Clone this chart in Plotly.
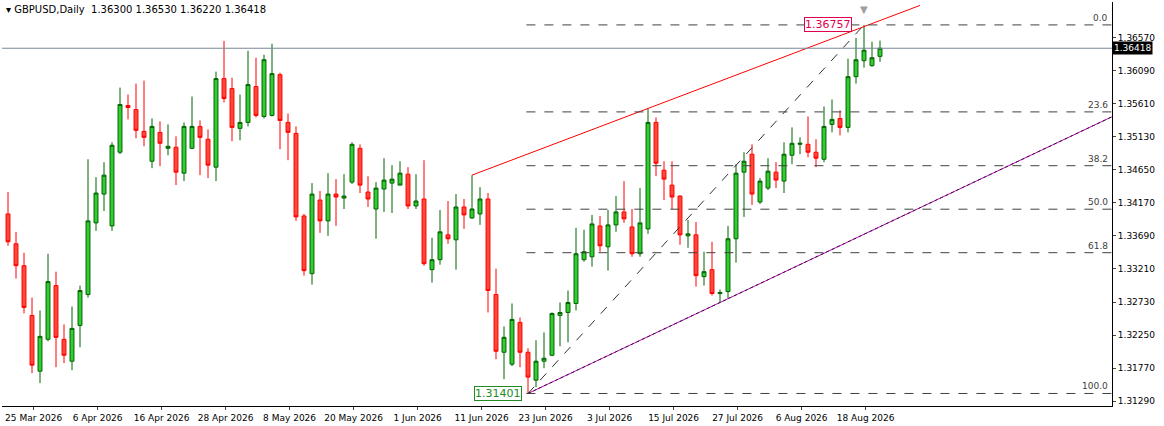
import pandas as pd
import plotly.graph_objects as go

# daily GBPUSD candles
opens = [1.34010, 1.33576, 1.33258, 1.32535, 1.31725, 1.32188, 1.32969, 1.32188, 1.31870, 1.32390,
         1.32839, 1.33880, 1.34299, 1.33836, 1.34907, 1.35586, 1.35528, 1.35210, 1.34776, 1.35196,
         1.34964, 1.34979, 1.34603, 1.34964, 1.35282, 1.35095, 1.34690, 1.35977, 1.35832, 1.35254,
         1.35340, 1.35861, 1.35427, 1.35442, 1.36034, 1.35340, 1.35181, 1.33981, 1.33142, 1.34212,
         1.33909, 1.34299, 1.34241, 1.34473, 1.34964, 1.34328, 1.34082, 1.34372, 1.34458, 1.34429,
         1.34588, 1.34126, 1.34227, 1.33200, 1.33345, 1.33706, 1.33634, 1.34111, 1.33952, 1.34010,
         1.34227, 1.32839, 1.32000, 1.31827, 1.32434, 1.32000, 1.31595, 1.31870, 1.31957, 1.32535,
         1.32578, 1.32709, 1.33345, 1.33388, 1.33836, 1.33533, 1.33851, 1.34039, 1.33822, 1.33432,
         1.33793, 1.35340, 1.34646, 1.34429, 1.34270, 1.33692, 1.33706, 1.33099, 1.33200, 1.32853,
         1.32882, 1.33649, 1.34617, 1.34878, 1.34184, 1.34386, 1.34617, 1.34487, 1.34863, 1.35022,
         1.35022, 1.34907, 1.34805, 1.35311, 1.35398, 1.35268, 1.36005, 1.36237, 1.36165, 1.36300]
highs = [1.34328, 1.33750, 1.33446, 1.32795, 1.32607, 1.33432, 1.33171, 1.32405, 1.32665, 1.32969,
         1.34805, 1.34545, 1.34762, 1.35051, 1.35846, 1.35745, 1.35904, 1.35948, 1.35398, 1.35355,
         1.35311, 1.35138, 1.35340, 1.35716, 1.35369, 1.35239, 1.36078, 1.36526, 1.35991, 1.35745,
         1.36381, 1.36280, 1.36324, 1.36483, 1.36063, 1.35470, 1.35282, 1.34010, 1.34458, 1.34343,
         1.34603, 1.34516, 1.34588, 1.35051, 1.35022, 1.34559, 1.34473, 1.34820, 1.34719, 1.34776,
         1.34690, 1.34588, 1.34791, 1.33663, 1.34068, 1.34198, 1.34299, 1.34227, 1.34574, 1.34400,
         1.34314, 1.33215, 1.32376, 1.32709, 1.32506, 1.32058, 1.32174, 1.32289, 1.32578, 1.32723,
         1.32897, 1.33808, 1.33779, 1.33996, 1.33981, 1.34068, 1.34270, 1.34487, 1.34082, 1.34386,
         1.35543, 1.35413, 1.34776, 1.34776, 1.34280, 1.33923, 1.33894, 1.33461, 1.33605, 1.32911,
         1.33836, 1.34733, 1.34907, 1.35022, 1.34531, 1.34820, 1.34762, 1.35051, 1.35268, 1.35123,
         1.35427, 1.35095, 1.35572, 1.35673, 1.35514, 1.36266, 1.36569, 1.36757, 1.36512, 1.36530]
lows = [1.33547, 1.33070, 1.32564, 1.31696, 1.31552, 1.32159, 1.31783, 1.31841, 1.31740, 1.32072,
        1.32795, 1.33764, 1.34053, 1.33764, 1.34878, 1.35384, 1.35109, 1.34993, 1.34675, 1.34704,
        1.34863, 1.34429, 1.34487, 1.34950, 1.34574, 1.34531, 1.34487, 1.35630, 1.35066, 1.35080,
        1.35282, 1.35413, 1.35398, 1.35427, 1.34950, 1.34791, 1.33909, 1.33113, 1.32983, 1.33735,
        1.33692, 1.33836, 1.34082, 1.34444, 1.34314, 1.34111, 1.33649, 1.34039, 1.34024, 1.34458,
        1.34082, 1.34082, 1.33258, 1.33012, 1.33273, 1.33576, 1.33200, 1.33793, 1.33938, 1.33851,
        1.32578, 1.31899, 1.31610, 1.31798, 1.31783, 1.31401, 1.31494, 1.31769, 1.31942, 1.32087,
        1.32145, 1.32607, 1.33316, 1.33244, 1.33461, 1.33186, 1.33750, 1.33880, 1.33388, 1.33388,
        1.33721, 1.34559, 1.34212, 1.34082, 1.33562, 1.33518, 1.32954, 1.32969, 1.32824, 1.32723,
        1.32781, 1.33301, 1.33967, 1.34140, 1.34155, 1.34357, 1.34386, 1.34314, 1.34733, 1.34878,
        1.34834, 1.34690, 1.34762, 1.35196, 1.35152, 1.35196, 1.35904, 1.36136, 1.36150, 1.36220]
closes = [1.33605, 1.33258, 1.32651, 1.31812, 1.32231, 1.33027, 1.32217, 1.31957, 1.32347, 1.32897,
          1.33909, 1.34314, 1.34574, 1.35008, 1.35601, 1.35557, 1.35225, 1.35123, 1.35282, 1.35037,
          1.34993, 1.34617, 1.35282, 1.35282, 1.35123, 1.34719, 1.35977, 1.35687, 1.35268, 1.35340,
          1.35890, 1.35442, 1.36251, 1.36049, 1.35369, 1.35196, 1.33967, 1.33186, 1.34299, 1.33909,
          1.34299, 1.34256, 1.34270, 1.35022, 1.34429, 1.34227, 1.34386, 1.34502, 1.34516, 1.34603,
          1.34126, 1.34198, 1.33287, 1.33345, 1.33750, 1.33649, 1.34111, 1.33996, 1.34082, 1.34227,
          1.32897, 1.32015, 1.32217, 1.32477, 1.32000, 1.31639, 1.31870, 1.31913, 1.32564, 1.32578,
          1.32723, 1.33432, 1.33461, 1.33865, 1.33547, 1.33851, 1.34039, 1.33938, 1.33432, 1.33880,
          1.35340, 1.34747, 1.34516, 1.34256, 1.33706, 1.33721, 1.33113, 1.33171, 1.32853, 1.32868,
          1.33649, 1.34603, 1.34776, 1.34299, 1.34487, 1.34632, 1.34502, 1.34878, 1.35037, 1.35037,
          1.34907, 1.34820, 1.35282, 1.35384, 1.35268, 1.36005, 1.36251, 1.36390, 1.36280, 1.36418]

dates = pd.bdate_range("2026-03-25", periods=len(opens))
idx = list(range(len(opens)))

price_ticks = [1.31290, 1.31770, 1.32250, 1.32730, 1.33210, 1.33690, 1.34170,
               1.34650, 1.35130, 1.35610, 1.36090, 1.36570]

# objects drawn on the chart
swing_low_i, swing_low = 65, 1.31401
swing_high_i, swing_high = 107, 1.36757
fib_levels = [0.0, 23.6, 38.2, 50.0, 61.8, 100.0]
res_pts = ([58, 80], [1.34574, 1.35543])
sup_pts = ([65, 89], [1.31401, 1.32723])
last_price = 1.36418

x_max = 138.0
y_min, y_max = 1.31219, 1.3709

fig = go.Figure()
fig.add_trace(go.Candlestick(
    x=idx, open=opens, high=highs, low=lows, close=closes,
    increasing=dict(line=dict(color="#006400", width=1), fillcolor="#32CD32"),
    decreasing=dict(line=dict(color="#FF0000", width=1), fillcolor="#FF4B3A"),
    whiskerwidth=0, showlegend=False, hoverinfo="skip"))


def extend(pts, x_end):
    (x0, x1), (y0, y1) = pts
    s = (y1 - y0) / (x1 - x0)
    return [x0, x_end], [y0, y0 + s * (x_end - x0)]


rx, ry = extend(res_pts, 114)
fig.add_trace(go.Scatter(x=rx, y=ry, mode="lines", line=dict(color="#FF0000", width=1),
                         showlegend=False, hoverinfo="skip"))
sx, sy = extend(sup_pts, x_max + 1)
fig.add_trace(go.Scatter(x=sx, y=sy, mode="lines", line=dict(color="#CC00CC", width=1),
                         showlegend=False, hoverinfo="skip"))
fig.add_trace(go.Scatter(x=sx, y=sy, mode="lines", line=dict(color="#202020", width=1, dash="dot"),
                         showlegend=False, hoverinfo="skip"))

# fibonacci
rng = swing_high - swing_low
fig.add_trace(go.Scatter(x=[swing_low_i, swing_high_i], y=[swing_low, swing_high], mode="lines",
                         line=dict(color="#333333", width=1, dash="dash"),
                         showlegend=False, hoverinfo="skip"))
for lv in fib_levels:
    p = swing_high - rng * lv / 100
    fig.add_shape(type="line", x0=swing_low_i - 0.2, x1=x_max, y0=p, y1=p,
                  line=dict(color="#404040", width=1, dash="dash"))
    fig.add_annotation(x=x_max - 0.3, y=p, text=f"{lv:.1f}", showarrow=False,
                       xanchor="right", yanchor="bottom", font=dict(size=9, color="#404040"))

# last price line
fig.add_shape(type="line", x0=-1, x1=x_max, y0=last_price, y1=last_price,
              line=dict(color="#778899", width=1))
fig.add_annotation(x=1, xref="paper", y=last_price, text=f"{last_price:.5f}", showarrow=False,
                   xanchor="left", bgcolor="#000000", font=dict(size=9, color="#FFFFFF"),
                   borderpad=1)

fig.add_annotation(x=swing_high_i - 1.5, y=swing_high, text=f"{swing_high:.5f}", showarrow=False,
                   xanchor="right", yanchor="middle", bgcolor="#FFFFFF",
                   bordercolor="#E0004D", borderwidth=1, borderpad=0,
                   font=dict(size=11, color="#E0004D"))
fig.add_annotation(x=swing_low_i - 0.7, y=swing_low, text=f"{swing_low:.5f}", showarrow=False,
                   xanchor="right", yanchor="middle", bgcolor="#FFFFFF",
                   bordercolor="#228B22", borderwidth=1, borderpad=0,
                   font=dict(size=11, color="#228B22"))
fig.add_annotation(x=swing_high_i, y=1.0, yref="paper", text="▼", showarrow=False,
                   yanchor="top", font=dict(size=10, color="#A0A0A0"))

fig.add_annotation(x=0.002, xref="paper", y=1.0, yref="paper",
                   text=f"▾ GBPUSD,Daily  {opens[-1]:.5f} {highs[-1]:.5f} {lows[-1]:.5f} {closes[-1]:.5f}",
                   showarrow=False, xanchor="left", yanchor="top", font=dict(size=10, color="#000000"))

tick_i = idx[::8]
fig.update_layout(
    width=1164, height=426,
    margin=dict(l=2, r=52, t=2, b=20),
    paper_bgcolor="#FFFFFF", plot_bgcolor="#FFFFFF",
    font=dict(family="DejaVu Sans", size=9, color="#000000"),
    xaxis=dict(range=[-0.75, x_max], rangeslider=dict(visible=False), showgrid=False,
               tickvals=[i + 3.2 for i in tick_i],
               ticktext=[dates[i].strftime("%-d %b %Y") for i in tick_i],
               ticks="outside", ticklen=3, showline=True, linecolor="#000000", mirror=False,
               zeroline=False),
    yaxis=dict(range=[y_min, y_max], side="right", showgrid=False, tickvals=price_ticks,
               ticktext=[f"{t:.5f}" for t in price_ticks], ticks="outside", ticklen=3,
               showline=True, linecolor="#000000", zeroline=False),
)

fig.write_html("out.html", config={"staticPlot": True},
               post_script="document.body.style.margin='0';")
